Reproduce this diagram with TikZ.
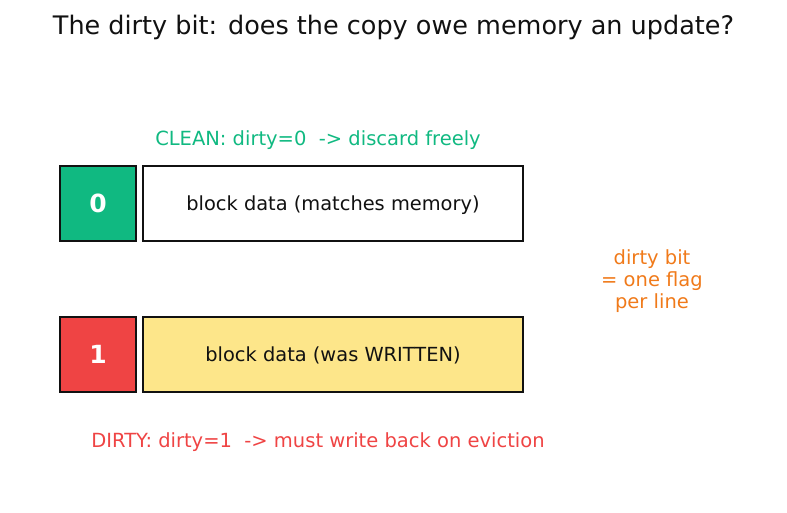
\documentclass[tikz,border=0pt]{standalone}
\usepackage{fontspec}
\setmainfont{DejaVu Sans}
\definecolor{cgreen}{HTML}{10B981}
\definecolor{cred}{HTML}{EF4444}
\definecolor{cyellow}{HTML}{FDE68A}
\definecolor{corange}{HTML}{F07A1A}
\definecolor{cedge}{HTML}{111111}
\begin{document}
\begin{tikzpicture}[x=1pt,y=-1pt,
  bitbox/.style={draw=cedge,line width=2.4pt,minimum width=76pt,minimum height=75pt,inner sep=0pt,text=white,font=\bfseries\fontsize{25}{30}\selectfont},
  databox/.style={draw=cedge,line width=2.4pt,minimum width=380pt,minimum height=75pt,inner sep=0pt,text=cedge,text height=14.5pt,text depth=0.5pt,font=\fontsize{19.4}{23}\selectfont},
  lbl/.style={font=\fontsize{19.5}{23}\selectfont,inner sep=0pt}]
\useasboundingbox (0,0) rectangle (787,512);
\node[font=\fontsize{25.5}{30}\selectfont,text=cedge] (title) at (393.5,27) {The dirty bit: does the copy owe memory an update?};
\node[lbl,text=cgreen] (clean) at (318,140) {CLEAN: dirty=0\ \ -> discard freely};
\node[bitbox,fill=cgreen] (b0) at (98,203.5) {0};
\node[databox,fill=white] (d0) at (333,203.5) {block data (matches memory)};
\node[bitbox,fill=cred] (b1) at (98,354.5) {1};
\node[databox,fill=cyellow] (d1) at (333,354.5) {block data (was WRITTEN)};
\node[lbl,text=cred] (dirty) at (318,442) {DIRTY: dirty=1\ \ -> must write back on eviction};
\node[lbl,text=corange,align=center,font=\fontsize{19.5}{22}\selectfont] (note) at (652,281) {dirty bit\\= one flag\\per line};
\end{tikzpicture}
\end{document}
